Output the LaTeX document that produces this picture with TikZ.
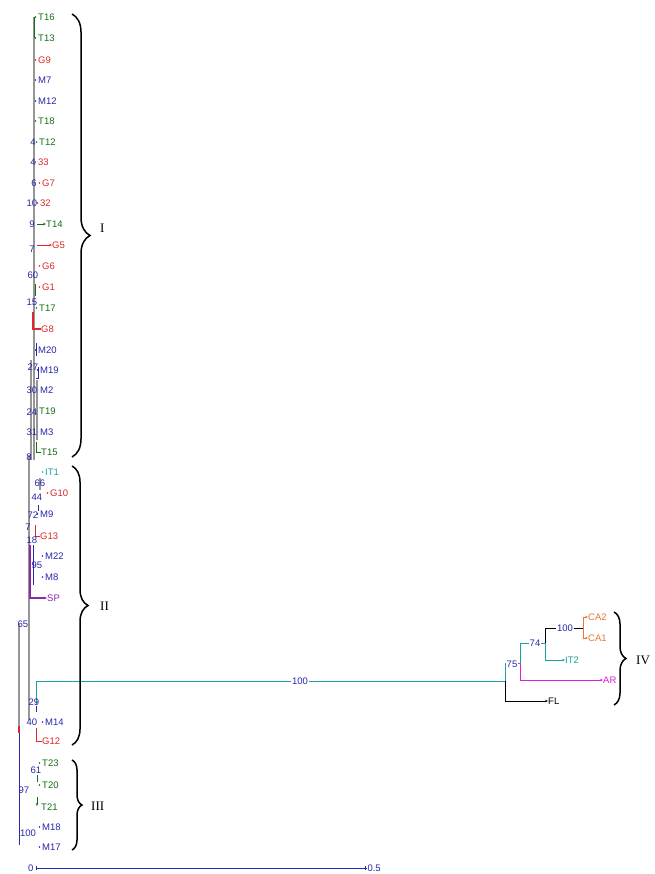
\documentclass[tikz,border=0pt]{standalone}
\usepackage{fontspec}
\setmainfont{Liberation Sans}
\newfontfamily\romfont{Liberation Serif}
\usetikzlibrary{decorations.pathreplacing,arrows.meta}
\definecolor{cgreen}{RGB}{20,110,20}
\definecolor{cred}{RGB}{220,40,40}
\definecolor{cblue}{RGB}{40,40,170}
\definecolor{cteal}{RGB}{30,160,160}
\definecolor{cpurple}{RGB}{140,40,170}
\definecolor{cmag}{RGB}{220,30,220}
\definecolor{corange}{RGB}{230,120,50}
\definecolor{cgrey}{RGB}{150,150,150}
\begin{document}
\begin{tikzpicture}[x=1pt,y=-1pt,
  lab/.style={anchor=west,inner sep=0pt,font=\fontsize{9.5}{10}\selectfont},
  bs/.style={inner sep=0.3pt,text=cblue,font=\fontsize{9.5}{10}\selectfont},
  gl/.style={draw=cgrey,line width=1.1pt},
  br/.style={line width=0.9pt},
  tip/.style={-{Stealth[length=3pt,width=2.5pt]}},
  brc/.style={decorate,decoration={brace,amplitude=#1},line width=1.5pt},
  rom/.style={anchor=west,inner sep=0pt,font=\romfont\fontsize{13}{13}\selectfont}]
\useasboundingbox (0,0) rectangle (654,874);
\fill[white] (0,0) rectangle (654,874);
% leaves
\foreach \n/\t/\c/\y/\x in {t16/T16/cgreen/17/38, t13/T13/cgreen/38/38, g9/G9/cred/60/38,
  m7/M7/cblue/80/38, m12/M12/cblue/101/38, t18/T18/cgreen/121/38, t12/T12/cgreen/142/39,
  l33/33/cred/162/38, g7/G7/cred/183/42, l32/32/cred/203/40, g6/G6/cred/266/42,
  g1/G1/cred/287/42, t17/T17/cgreen/308/39, m20/M20/cblue/350/38,
  m19/M19/cblue/370/40, m2/M2/cblue/390/40, t19/T19/cgreen/411/39, m3/M3/cblue/432/40,
  it1/IT1/cteal/472/45, g10/G10/cred/493/50, m9/M9/cblue/514/40,
  m22/M22/cblue/556/45, m8/M8/cblue/577/45, m14/M14/cblue/722/45,
  t23/T23/cgreen/763/42, t20/T20/cgreen/785/42, m18/M18/cblue/827/42, m17/M17/cblue/847/42}
{
  \node[lab,text=\c] (\n) at (\x,\y) {\t};
  \fill[\c] ({\x-2.5},\y) circle (0.9);
}
\foreach \n/\t/\c/\y/\x in {t14/T14/cgreen/224/46, g5/G5/cred/245/52, g8/G8/cred/329/41,
  t15/T15/cgreen/452/41, g13/G13/cred/536/40, sp/SP/cpurple/598/47, g12/G12/cred/741/42,
  t21/T21/cgreen/807/41, ca2/CA2/corange/617/588, ca1/CA1/corange/638/588,
  it2/IT2/cteal/660/565, ar/AR/cmag/680/603, fl/FL/black/701/548}
{
  \node[lab,text=\c] (\n) at (\x,\y) {\t};
}
% cluster I trunk
\draw[gl] (34,17) -- (34,460);
\draw[cgreen,br] (34,17) -- (34,38);
\draw[cgreen,br,tip] (37,224) -- (t14.west);
\draw[cred,br,tip] (37,245) -- (g5.west);
\draw[cgreen,br] (35,284) -- (35,296);
\draw[cred,line width=1.1pt] (33,312) -- (33,329) -- (g8.west);
\draw[cblue,br] (36,343) -- (36,356);
\draw[cblue,br] (38,367) -- (38,378) -- (36,378);
\draw[gl] (31,360) -- (31,460);
\draw[gl] (37,380) -- (37,440);
\draw[cgreen,br] (36,442) -- (36,452) -- (t15.west);
% cluster II
\draw[gl] (29,455) -- (29,720);
\draw[gl] (40,478) -- (40,490);
\draw[cblue,br] (38,505) -- (38,511);
\draw[cred,br] (35,525) -- (35,536) -- (g13.west);
\draw[cblue,br] (33,545) -- (33,585);
\draw[cpurple,line width=1.1pt,tip] (30,545) -- (30,598) -- (sp.west);
\draw[cteal,br] (36,705) -- (36,681) -- (505,681);
\draw[cblue,br] (36,706) -- (36,712);
\draw[cred,br] (36,728) -- (36,741) -- (g12.west);
% outer and cluster III
\draw[gl] (19,624) -- (19,730);
\draw[cblue,br] (19,730) -- (19,845);
\draw[cred,line width=1.1pt] (19,726) -- (19,733);
\draw[cgreen,br] (37,775) -- (37,782);
\draw[cgreen,br,tip] (37,797) -- (37,806);
% right cluster IV
\draw[cteal,br] (505,681) -- (505,663) -- (520,663);
\draw[black,br,tip] (505,681) -- (505,701) -- (fl.west);
\draw[cteal,br] (520,663) -- (520,643) -- (545,643);
\draw[cmag,br,tip] (520,663) -- (520,680) -- (ar.west);
\draw[black,br] (545,643) -- (545,628) -- (583,628);
\draw[cteal,br,tip] (545,643) -- (545,660) -- (it2.west);
\draw[corange,br] (583,617) -- (583,638);
\draw[corange,br,tip] (583,617) -- (ca2.west);
\draw[corange,br,tip] (583,638) -- (ca1.west);
% bootstrap values
\foreach \t/\x/\y [count=\i] in {4/33/142, 4/33/162, 6/34/183, 10/32/203, 9/32/224, 7/32/249,
  60/33/275, 15/32/302, 27/33/367, 30/32/390, 24/32/412, 31/32/432, 8/29/457, 66/40/483,
  44/37/497, 72/33/515, 7/28/527, 18/32/540, 95/37/565, 65/23/624, 29/34/702, 40/32/722,
  61/36/770, 97/24/790, 100/28/833}
{
  \node[bs] (b\i) at (\x,\y) {\t};
}
\node[bs,fill=white,inner sep=1pt] (r1) at (300,681) {100};
\node[bs,fill=white,inner sep=1pt] (r2) at (512,664) {75};
\node[bs,fill=white,inner sep=1pt] (r3) at (535,643) {74};
\node[bs,fill=white,inner sep=1pt] (r4) at (565,628) {100};
% scale bar
\node[bs,anchor=east] (s0) at (34,868) {0};
\node[bs,anchor=west] (s5) at (367,868) {0.5};
\draw[cblue,br] (s0.east) ++(2,0) coordinate (sa) -- (s5.west) ++(-2,0) coordinate (sb);
\draw[cblue,br] (36,866) -- (36,870);
\draw[cblue,br] (365,866) -- (365,870);
% braces
\draw[brc=18] (72,14) -- (72,457);
\draw[brc=16] (72,466) -- (72,745);
\draw[brc=10] (72,760) -- (72,850);
\draw[brc=12] (614,612) -- (614,705);
\node[rom] (c1) at (100,228) {I};
\node[rom] (c2) at (100,606) {II};
\node[rom] (c3) at (91,806) {III};
\node[rom] (c4) at (636,660) {IV};
\end{tikzpicture}
\end{document}
